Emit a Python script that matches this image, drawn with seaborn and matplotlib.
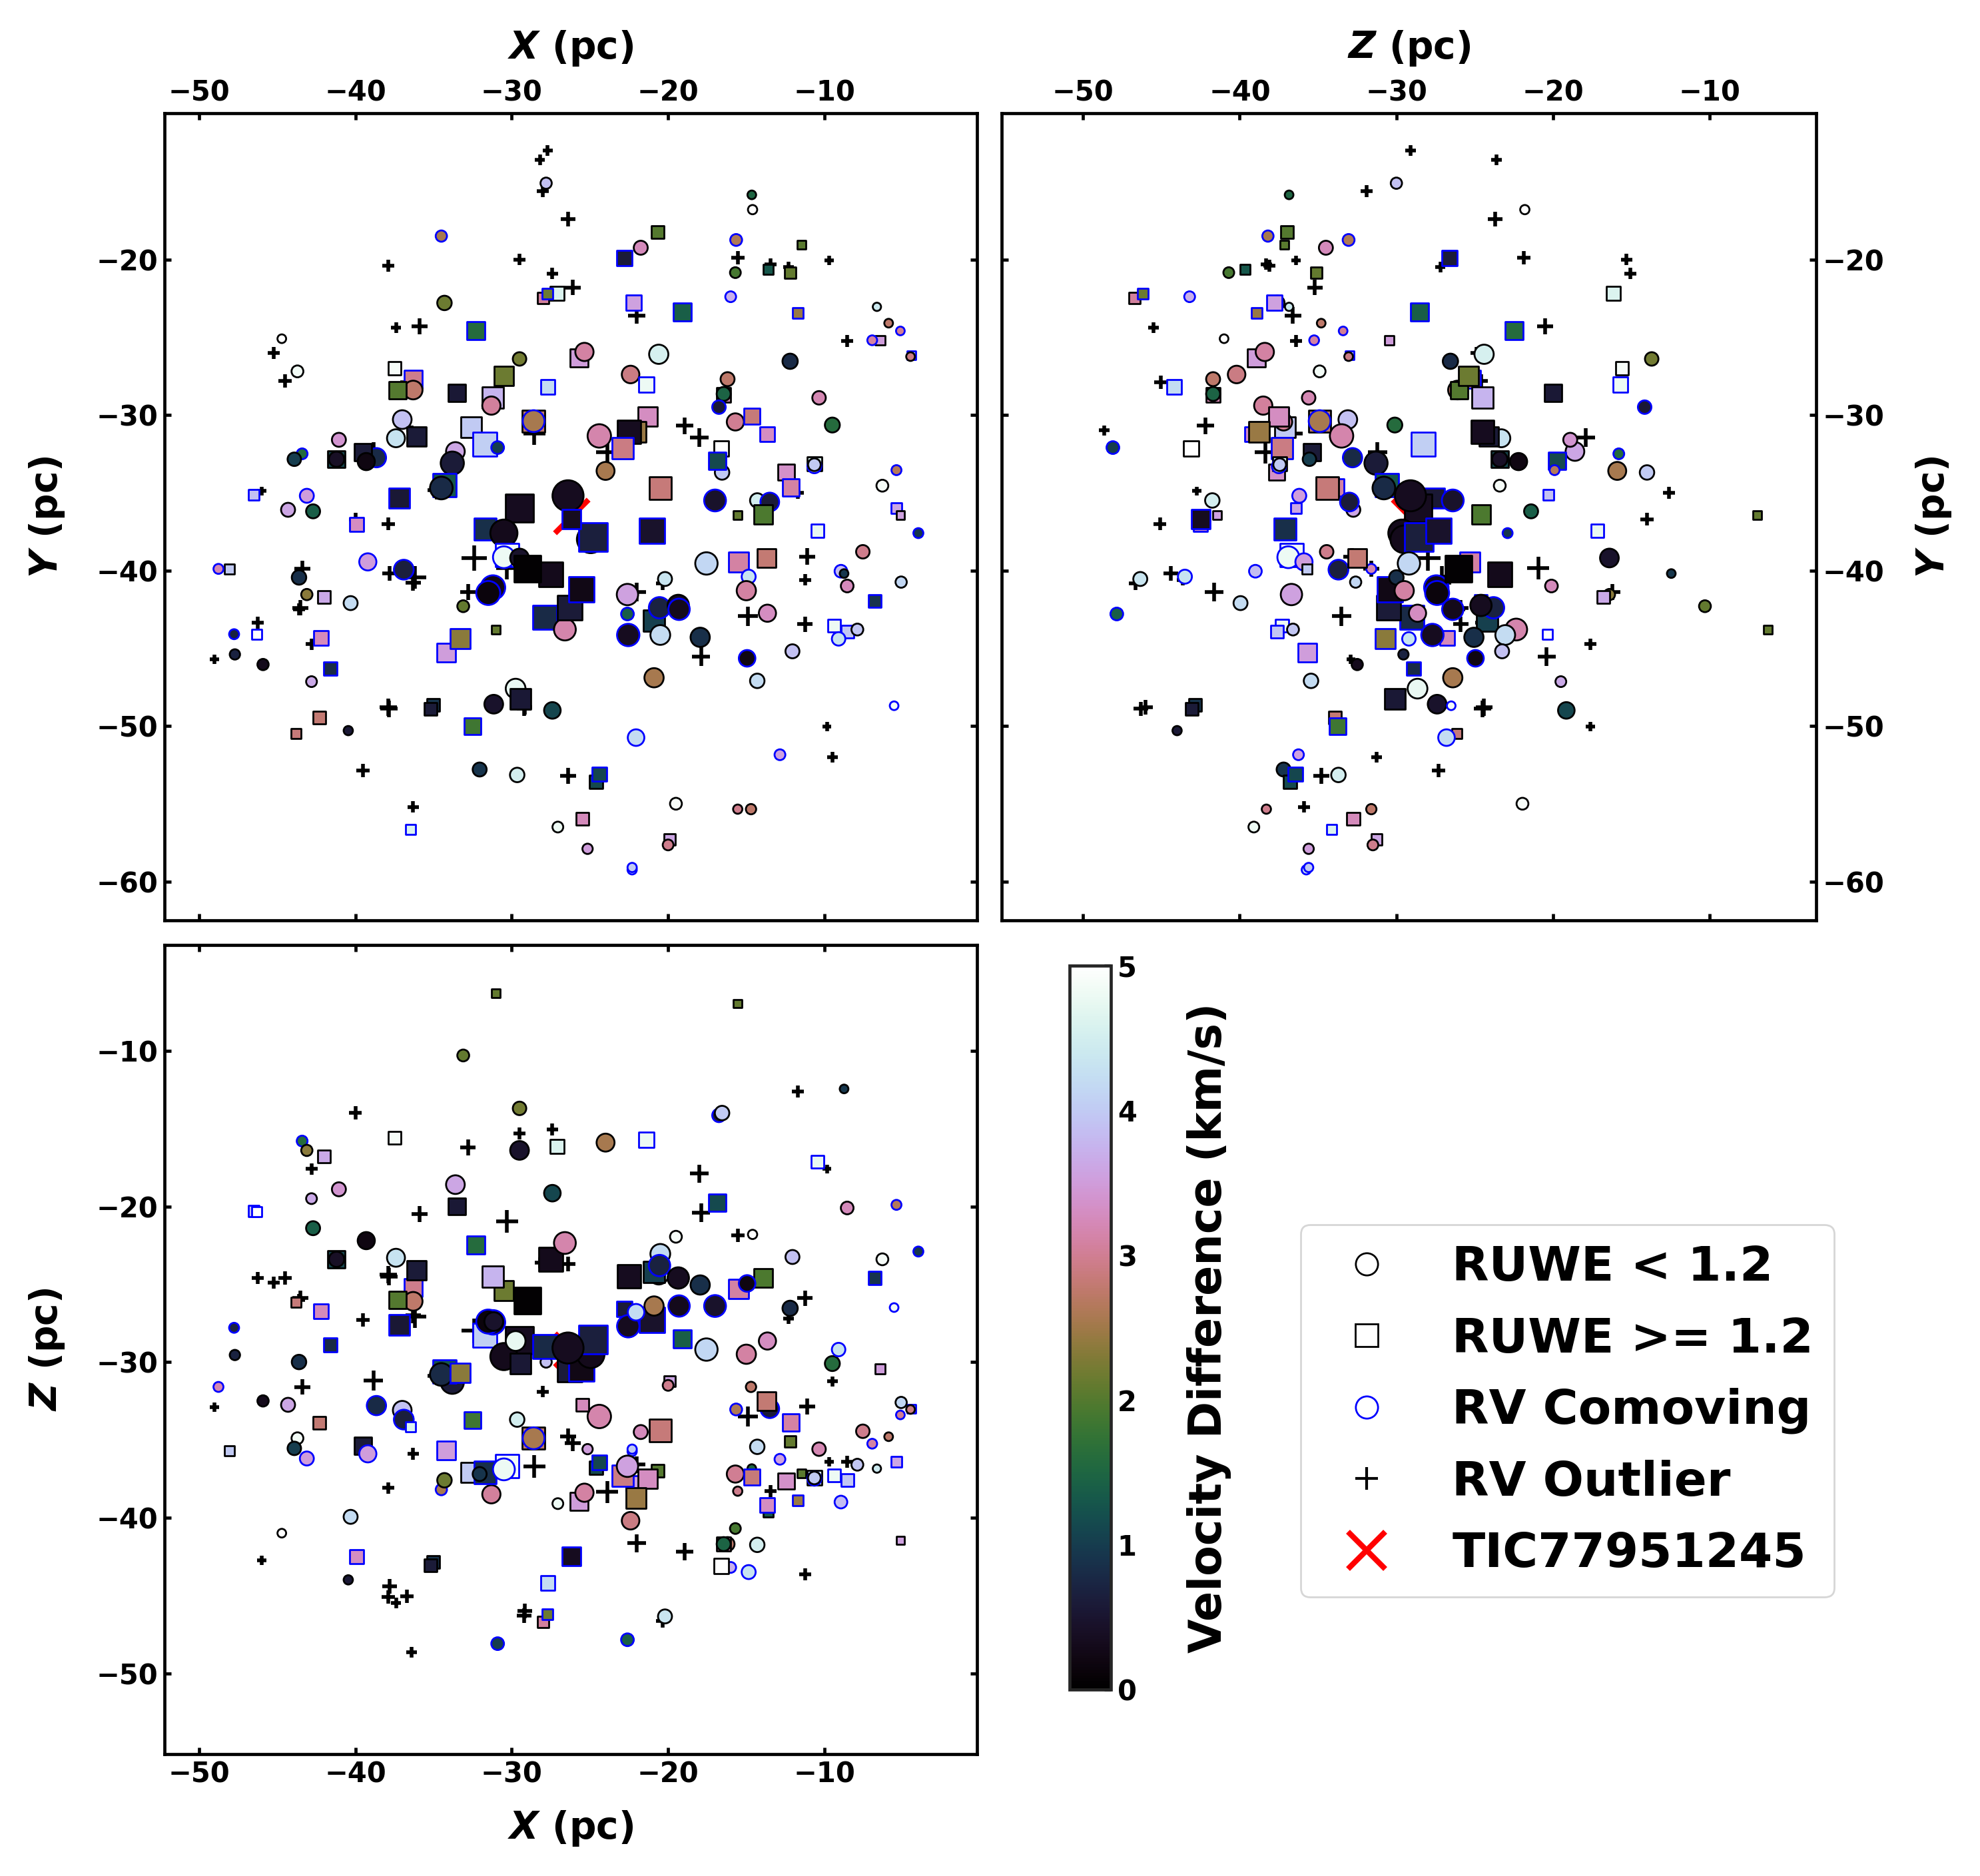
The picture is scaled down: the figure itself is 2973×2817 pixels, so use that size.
"""Positions of the comoving stars in X, Y, Z, coloured by velocity difference."""

import matplotlib as mpl
import matplotlib.pyplot as plt
import pandas as pd
import seaborn as sns
from matplotlib.lines import Line2D

# Stars with astrometry, ten stars per source line in every column.
star_x = [
    -27.8, -34.5, -34.3, -32.3, -44.7, -43.7, -37.5, -36.3, -36.3, -37.3,
    -33.5, -30.5, -29.5, -27.7, -31.2, -31.3, -28.6, -28.6, -27.1, -28.0,
    -27.7, -37.0, -37.4, -36.1, -32.6, -31.7, -30.9, -33.6, -33.8, -38.65,
    -39.5, -39.3, -41.2, -41.2, -41.05, -43.4, -43.9, -46.5, -43.1, -44.3,
    -42.7, -37.2, -34.3, -34.5, -29.5, -31.7, -30.5, -39.9, -30.3, -30.5,
    -29.5, -22.3, -27.5, -31.2, -31.5, -33.1, -31.0, -34.2, -33.3, -27.9,
    -26.6, -26.3, -25.55, -43.6, -43.1, -42.0, -40.3, -42.2, -36.9, -39.2,
    -48.05, -48.75, -47.75, -46.3, -47.7, -45.9, -41.6, -42.8, -35.0, -35.2,
    -42.3, -40.45, -43.8, -29.75, -31.15, -29.45, -27.4, -32.5, -32.05, -29.65,
    -36.45, -27.05, -20.65, -21.75, -22.8, -22.2, -19.1, -15.65, -14.65, -14.6,
    -15.7, -13.6, -11.45, -12.2, -16.0, -11.7, -6.65, -5.9, -5.15, -6.45,
    -6.95, -4.45, -4.5, -12.2, -20.6, -25.7, -25.35, -22.4, -21.4, -16.2,
    -16.45, -16.45, -16.75, -16.55, -10.35, -9.5, -15.7, -14.65, -13.65, -21.3,
    -22.05, -22.5, -24.4, -22.9, -24.0, -16.6, -16.85, -12.45, -12.15, -10.65,
    -10.65, -10.65, -20.5, -17.0, -14.3, -13.5, -15.55, -13.9, -6.3, -5.4,
    -5.4, -5.15, -4.0, -24.95, -24.8, -21.05, -17.55, -15.5, -13.7, -14.85,
    -15.0, -8.95, -8.75, -8.55, -7.55, -5.1, -6.8, -10.45, -9.4, -8.55,
    -9.1, -7.9, -22.6, -20.2, -20.9, -20.5, -20.55, -19.35, -19.3, -22.6,
    -22.55, -17.95, -13.65, -12.05, -14.95, -14.3, -20.9, -22.05, -5.55, -12.85,
    -24.6, -24.4, -19.5, -15.55, -14.7, -25.5, -19.9, -20.0, -25.15, -22.3,
    -29.0, -26.4, -26.2,
]
star_y = [
    -15.1, -18.5, -22.8, -24.6, -25.1, -27.2, -27.0, -27.7, -28.4, -28.4,
    -28.6, -27.5, -26.4, -28.2, -28.9, -29.4, -30.4, -30.4, -22.2, -22.5,
    -22.2, -30.3, -31.5, -31.4, -30.8, -31.9, -32.1, -32.35, -33.1, -32.75,
    -32.4, -33.0, -32.85, -32.85, -31.6, -32.5, -32.85, -35.15, -35.2, -36.1,
    -36.2, -35.35, -34.5, -34.7, -36.0, -37.35, -37.6, -37.05, -39.0, -39.15,
    -39.2, -59.25, -40.25, -41.1, -41.45, -42.3, -43.8, -45.3, -44.4, -43.0,
    -43.8, -42.4, -41.2, -40.45, -41.55, -41.7, -42.1, -44.35, -39.95, -39.45,
    -39.9, -39.9, -44.1, -44.1, -45.4, -46.05, -46.3, -47.15, -48.65, -48.9,
    -49.45, -50.3, -50.5, -47.6, -48.6, -48.25, -49.0, -50.0, -52.8, -53.15,
    -56.65, -56.5, -18.25, -19.25, -19.9, -22.8, -23.4, -18.75, -15.85, -16.8,
    -20.85, -20.65, -19.05, -20.85, -22.4, -23.45, -23.05, -24.1, -24.6, -25.2,
    -25.2, -26.15, -26.25, -26.55, -26.1, -26.35, -25.95, -27.4, -28.05, -27.7,
    -28.7, -28.65, -29.5, -33.7, -28.9, -30.65, -30.45, -30.1, -31.25, -30.1,
    -31.1, -31.1, -31.35, -32.15, -33.6, -32.15, -32.95, -33.7, -34.65, -33.15,
    -33.3, -33.2, -34.7, -35.5, -35.5, -35.6, -36.45, -36.4, -34.55, -33.55,
    -36.0, -36.45, -37.6, -38.0, -37.85, -37.45, -39.55, -39.45, -39.2, -40.4,
    -41.3, -40.05, -40.2, -41.0, -38.8, -40.75, -41.95, -37.45, -43.55, -43.95,
    -44.4, -43.8, -41.55, -40.55, -43.25, -44.15, -42.4, -42.25, -42.5, -42.8,
    -44.15, -44.3, -42.75, -45.2, -45.65, -47.1, -46.9, -50.75, -48.7, -51.85,
    -53.6, -53.1, -55.0, -55.35, -55.35, -55.95, -57.3, -57.65, -57.9, -59.1,
    -39.9, -35.2, -36.7,
]
star_z = [
    -30.0, -38.2, -37.6, -22.5, -41.0, -34.9, -15.6, -25.2, -26.1, -26.0,
    -20.0, -25.4, -13.7, -44.2, -24.5, -38.5, -34.9, -34.9, -16.15, -46.7,
    -46.2, -33.1, -23.3, -24.1, -37.1, -28.3, -48.1, -18.6, -31.3, -32.8,
    -35.4, -22.2, -23.4, -23.4, -18.9, -15.8, -35.55, -20.3, -36.2, -32.75,
    -21.4, -27.6, -30.6, -30.8, -28.6, -37.1, -29.65, -42.5, -36.7, -36.9,
    -16.4, -35.75, -23.4, -27.45, -27.4, -10.3, -6.3, -35.7, -30.7, -29.0,
    -22.35, -30.5, -30.4, -30.0, -16.4, -16.8, -39.95, -26.75, -33.7, -35.9,
    -35.7, -31.6, -27.8, -20.35, -29.55, -32.5, -28.9, -19.5, -42.85, -43.05,
    -33.9, -44.0, -26.15, -28.65, -27.4, -30.1, -19.15, -33.75, -37.2, -33.7,
    -34.15, -39.1, -37.0, -34.5, -26.6, -37.8, -28.5, -33.05, -36.85, -21.8,
    -40.7, -39.65, -37.15, -35.1, -43.2, -38.9, -36.85, -34.8, -33.4, -30.45,
    -35.25, -33.0, -33.05, -26.55, -24.4, -38.95, -38.4, -40.2, -15.7, -41.7,
    -41.7, -41.7, -14.15, -14.0, -35.6, -30.1, -37.2, -37.4, -39.2, -37.5,
    -38.75, -24.5, -33.5, -37.3, -15.9, -43.1, -19.75, -37.65, -33.9, -37.45,
    -37.5, -37.45, -34.4, -26.4, -41.75, -33.0, -6.96, -24.6, -23.4, -19.9,
    -36.4, -41.45, -22.9, -29.5, -28.55, -27.3, -29.2, -25.3, -32.5, -43.5,
    -29.5, -39.0, -12.45, -20.1, -34.45, -32.6, -24.6, -17.15, -37.3, -37.6,
    -29.2, -36.6, -36.7, -46.35, -24.2, -23.05, -23.8, -24.6, -26.4, -47.85,
    -27.7, -25.05, -28.65, -23.25, -24.95, -35.45, -26.4, -26.8, -26.5, -36.25,
    -36.8, -36.45, -21.95, -38.3, -31.6, -32.75, -31.25, -31.5, -35.6, -35.6,
    -26.05, -29.1, -42.5,
]
star_dv = [
    3.9, 2.55, 2.15, 1.6, 5.0, 4.85, 4.9, 2.95, 2.75, 2.0,
    0.55, 2.15, 2.2, 4.2, 3.75, 3.05, 2.75, 2.55, 4.6, 3.05,
    2.15, 3.9, 4.3, 0.6, 4.0, 4.05, 1.0, 3.6, 0.6, 0.8,
    0.6, 0.2, 1.1, 0.4, 3.4, 1.6, 1.0, 3.9, 3.5, 3.6,
    1.4, 0.55, 1.3, 0.8, 0.35, 0.85, 0.3, 3.3, 4.85, 4.8,
    0.45, 4.2, 0.3, 0.25, 0.15, 2.1, 2.1, 3.5, 2.35, 0.8,
    3.15, 0.6, 0.25, 0.85, 2.35, 3.65, 4.2, 3.25, 0.65, 3.5,
    4.0, 3.2, 0.7, 5.0, 0.7, 0.3, 0.8, 3.65, 0.9, 0.6,
    2.8, 0.55, 2.85, 4.75, 0.45, 0.55, 1.1, 1.85, 0.9, 4.5,
    4.6, 4.8, 2.0, 3.25, 0.6, 3.55, 1.4, 2.6, 1.5, 5.0,
    1.9, 1.3, 2.05, 2.1, 3.7, 2.45, 4.4, 2.75, 3.0, 3.5,
    3.1, 4.0, 2.9, 0.8, 4.55, 3.5, 3.1, 2.9, 4.8, 2.75,
    3.2, 1.45, 0.55, 4.0, 3.2, 1.6, 3.0, 2.85, 3.3, 3.3,
    2.45, 0.35, 3.15, 2.9, 2.55, 5.0, 1.15, 3.35, 3.1, 4.6,
    4.1, 4.0, 2.85, 0.45, 4.5, 0.6, 2.1, 1.95, 4.9, 2.65,
    3.6, 3.55, 0.95, 0.3, 0.65, 0.45, 4.15, 3.1, 2.8, 4.3,
    3.1, 3.85, 0.95, 3.25, 2.95, 4.15, 0.9, 4.75, 4.8, 3.95,
    4.3, 3.95, 3.55, 4.35, 1.05, 4.2, 0.7, 0.35, 0.3, 1.4,
    0.35, 0.85, 3.3, 3.9, 0.2, 4.2, 2.55, 4.2, 4.85, 3.55,
    1.15, 1.1, 4.9, 2.95, 2.75, 3.25, 3.6, 2.95, 3.5, 4.0,
    0.05, 0.35, 0.35,
]
star_size = [
    37, 37, 61, 94, 22, 41, 47, 94, 102, 86,
    86, 114, 53, 61, 133, 97, 146, 139, 57, 37,
    34, 102, 94, 108, 123, 168, 47, 102, 157, 108,
    86, 86, 86, 68, 57, 34, 53, 34, 57, 57,
    57, 123, 157, 150, 223, 146, 215, 57, 157, 139,
    102, 25, 175, 175, 168, 41, 22, 102, 114, 168,
    139, 175, 187, 61, 37, 47, 57, 61, 114, 86,
    29, 29, 29, 29, 31, 37, 53, 34, 47, 47,
    47, 25, 29, 114, 102, 123, 80, 80, 57, 61,
    29, 34, 47, 57, 68, 68, 94, 41, 22, 25,
    34, 29, 22, 37, 34, 34, 20, 22, 22, 28,
    28, 22, 22, 68, 108, 94, 97, 90, 68, 57,
    61, 57, 53, 61, 53, 65, 86, 75, 61, 114,
    123, 157, 160, 133, 94, 68, 86, 75, 86, 61,
    57, 47, 146, 139, 61, 102, 20, 102, 41, 29,
    34, 20, 29, 223, 236, 187, 146, 114, 102, 57,
    108, 47, 22, 47, 53, 37, 47, 47, 47, 47,
    53, 41, 133, 57, 133, 114, 133, 133, 133, 47,
    146, 108, 86, 57, 80, 61, 108, 80, 22, 34,
    53, 61, 41, 25, 31, 47, 34, 34, 31, 25,
    207, 282, 102,
]
star_shape = list(
    "ooosoossos" "ssossososs" "soosssoooo" "sosoooosoo" "ossossosso"
    "oosooossss" "ossoososoo" "soosoososs" "sosoososoo" "sososssooo"
    "osssosooos" "osooosooso" "soooooosss" "ssososssss" "oosooossoo"
    "ssoossosso" "oooooossss" "oooosooooo" "oooooooooo" "ssooossooo"
    "sos"
)
star_edge = list(
    "kbkbkkkbkk" "kkkbkkkbkk" "bkkkkbbkkb" "kkkkkbkbbk" "kbbkkbkbbb"
    "kbkbbkkbbb" "kkbkkkkbbb" "kbbbkkbkkk" "kkkkkkkbkk" "bkkkbbbbkk"
    "kkkkbbkkbk" "bbkkkkkkbk" "kkbkkkkbbk" "kkkbkkbkbk" "bkkbkbkkkb"
    "bkbkbbkbkb" "kbkkkkbbbb" "bkkkkkbkbb" "bkkkbkkbbb" "kbkkkkkkkb"
    "kkb"
)

plus_x = [
    -27.7, -28.2, -28.0, -26.4, -29.5, -27.4, -37.9, -37.4, -35.9, -45.2,
    -44.5, -26.1, -38.85, -46.0, -34.8, -40.0, -37.9, -32.4, -30.3, -32.8,
    -43.4, -43.5, -43.6, -42.8, -37.8, -36.2, -36.3, -46.25, -49.0, -37.9,
    -37.85, -29.15, -29.2, -39.5, -36.3, -26.4, -36.7, -36.4, -28.55, -22.0,
    -22.0, -15.55, -13.45, -12.3, -9.7, -8.55, -23.9, -18.95, -18.0, -11.7,
    -11.1, -11.25, -20.35, -17.9, -14.9, -11.25, -9.85, -9.5,
]
plus_y = [
    -13.0, -13.6, -15.6, -17.4, -20.0, -20.9, -20.4, -24.4, -24.3, -26.0,
    -27.8, -21.8, -32.4, -34.9, -34.85, -36.7, -37.0, -39.2, -39.85, -41.4,
    -39.9, -42.4, -42.5, -44.75, -40.2, -40.45, -40.8, -43.35, -45.7, -48.8,
    -48.9, -48.8, -48.9, -52.85, -55.2, -53.2, -27.9, -31.0, -31.2, -23.6,
    -41.4, -19.9, -20.3, -20.5, -20.05, -25.25, -32.4, -30.7, -31.45, -35.0,
    -39.1, -40.6, -40.85, -45.55, -42.95, -43.45, -50.05, -52.0,
]
plus_z = [
    -29.1, -23.6, -31.9, -23.7, -15.3, -15.05, -38.1, -45.5, -20.5, -24.9,
    -24.6, -35.2, -31.2, -42.75, -30.9, -14.0, -45.1, -28.0, -20.95, -16.2,
    -31.6, -25.9, -26.0, -17.6, -44.4, -27.1, -27.0, -24.6, -32.9, -24.4,
    -24.5, -46.0, -46.3, -27.3, -35.9, -34.8, -45.05, -48.65, -36.7, -36.6,
    -41.65, -21.85, -38.3, -27.2, -36.4, -36.4, -38.35, -42.2, -17.9, -12.6,
    -32.85, -43.65, -46.65, -20.4, -33.5, -25.9, -17.6, -31.25,
]
plus_size = [
    32, 32, 41, 61, 41, 41, 41, 32, 73, 41,
    51, 73, 114, 25, 99, 51, 51, 183, 146, 73,
    73, 73, 41, 41, 61, 146, 73, 41, 25, 86,
    86, 61, 61, 51, 41, 73, 51, 32, 146, 86,
    99, 51, 41, 32, 25, 41, 146, 86, 99, 41,
    78, 41, 51, 99, 114, 68, 25, 32,
]

tic_x = [-26.2]
tic_y = [-36.5]
tic_z = [-29.2]

legend_labels = ["RUWE < 1.2", "RUWE >= 1.2", "RV Comoving", "RV Outlier", "TIC77951245"]
TICKS_XZ = [-50, -40, -30, -20, -10]
TICKS_Y = [-60, -50, -40, -30, -20]
TICKS_Z = [-50, -40, -30, -20, -10]

XLIM = (-52.2, -0.25)
YLIM = (-62.5, -10.6)
ZLIM = (-55.2, -3.2)

W, H = 2973, 2817
DPI = 200
EDGE_COLORS = {"k": "black", "b": "blue"}


def frame(left, top, right, bottom):
    return [left / W, 1 - bottom / H, (right - left) / W, (bottom - top) / H]


sns.set_style("white")
plt.rcParams.update({
    "font.family": "DejaVu Sans",
    "font.weight": "bold",
    "axes.labelweight": "bold",
    "mathtext.fontset": "dejavusans",
    "text.color": "black",
    "axes.labelcolor": "black",
    "xtick.color": "black",
    "ytick.color": "black",
})

stars = pd.DataFrame({"x": star_x, "y": star_y, "z": star_z, "dv": star_dv,
                      "s": star_size, "shape": star_shape})
plus = pd.DataFrame({"x": plus_x, "y": plus_y, "z": plus_z, "s": plus_size})
tic = pd.DataFrame({"x": tic_x, "y": tic_y, "z": tic_z})
edges = [EDGE_COLORS[e] for e in star_edge]

cmap = mpl.colormaps["cubehelix"]
fig = plt.figure(figsize=(W / DPI, H / DPI), dpi=DPI)
ax_xy = fig.add_axes(frame(247, 170, 1467, 1382))
ax_zy = fig.add_axes(frame(1504, 170, 2727, 1382))
ax_xz = fig.add_axes(frame(247, 1419, 1467, 2634))


def draw(ax, xcol, ycol):
    sns.scatterplot(data=plus, x=xcol, y=ycol, size="s", sizes=(0, 300), size_norm=(0, 300),
                    marker="+", color="k", linewidth=2, legend=False, ax=ax, zorder=1)
    sns.scatterplot(data=tic, x=xcol, y=ycol, marker="x", color="red", s=330, linewidth=3,
                    legend=False, ax=ax, zorder=2)
    sns.scatterplot(data=stars, x=xcol, y=ycol, hue="dv", hue_norm=(0, 5), palette=cmap,
                    size="s", sizes=(0, 300), size_norm=(0, 300),
                    style="shape", markers={"o": "o", "s": "s"},
                    edgecolor=edges, linewidth=1, legend=False, ax=ax, zorder=3)


draw(ax_xy, "x", "y")
draw(ax_zy, "z", "y")
draw(ax_xz, "x", "z")

xlab = r"$\mathbfit{X}$ (pc)"
ylab = r"$\mathbfit{Y}$ (pc)"
zlab = r"$\mathbfit{Z}$ (pc)"

for ax in (ax_xy, ax_zy, ax_xz):
    ax.tick_params(direction="in", length=3.5, width=1.7, labelsize=15,
                   top=True, bottom=True, left=True, right=True)
    for sp in ax.spines.values():
        sp.set_linewidth(1.7)
        sp.set_color("k")

ax_xy.set(xlim=XLIM, ylim=YLIM, xticks=TICKS_XZ, yticks=TICKS_Y)
ax_xy.tick_params(labeltop=True, labelbottom=False)
ax_xy.xaxis.set_label_position("top")
ax_xy.set_xlabel(xlab, fontsize=20.4, labelpad=11)
ax_xy.set_ylabel(ylab, fontsize=20.4, labelpad=16)

ax_zy.set(xlim=ZLIM, ylim=YLIM, xticks=TICKS_Z, yticks=TICKS_Y)
ax_zy.tick_params(labeltop=True, labelbottom=False, labelleft=False, labelright=True)
ax_zy.xaxis.set_label_position("top")
ax_zy.yaxis.set_label_position("right")
ax_zy.set_xlabel(zlab, fontsize=20.4, labelpad=11)
ax_zy.set_ylabel(ylab, fontsize=20.4, labelpad=16)

ax_xz.set(xlim=XLIM, ylim=ZLIM, xticks=TICKS_XZ, yticks=TICKS_Z)
ax_xz.set_xlabel(xlab, fontsize=20.4, labelpad=11)
ax_xz.set_ylabel(zlab, fontsize=20.4, labelpad=16)

# colourbar
cax = fig.add_axes(frame(1606, 1450, 1668, 2537))
sm = mpl.cm.ScalarMappable(norm=mpl.colors.Normalize(0, 5), cmap=cmap)
cb = fig.colorbar(sm, cax=cax, ticks=[0, 1, 2, 3, 4, 5])
cb.ax.tick_params(direction="in", length=3.5, width=1.7, labelsize=15, right=True)
cb.outline.set_linewidth(1.7)
cb.set_label("Velocity Difference (km/s)", fontsize=24, fontweight="bold", labelpad=27)

handles = [
    Line2D([], [], ls="none", marker="o", ms=12, mfc="w", mec="k", mew=1),
    Line2D([], [], ls="none", marker="s", ms=12, mfc="w", mec="k", mew=1),
    Line2D([], [], ls="none", marker="o", ms=12, mfc="w", mec="b", mew=1),
    Line2D([], [], ls="none", marker="+", ms=12, color="k", mew=1.5),
    Line2D([], [], ls="none", marker="x", ms=20, color="red", mew=3),
]
fig.legend(handles, legend_labels, loc="upper left", bbox_to_anchor=(1953 / W, 1 - 1839 / H),
           bbox_transform=fig.transFigure, borderaxespad=0, labelspacing=0.53,
           handletextpad=0.83, borderpad=0.42, handlelength=1.9,
           prop={"weight": "bold", "size": 26})

fig.savefig("out.png", dpi=DPI)
